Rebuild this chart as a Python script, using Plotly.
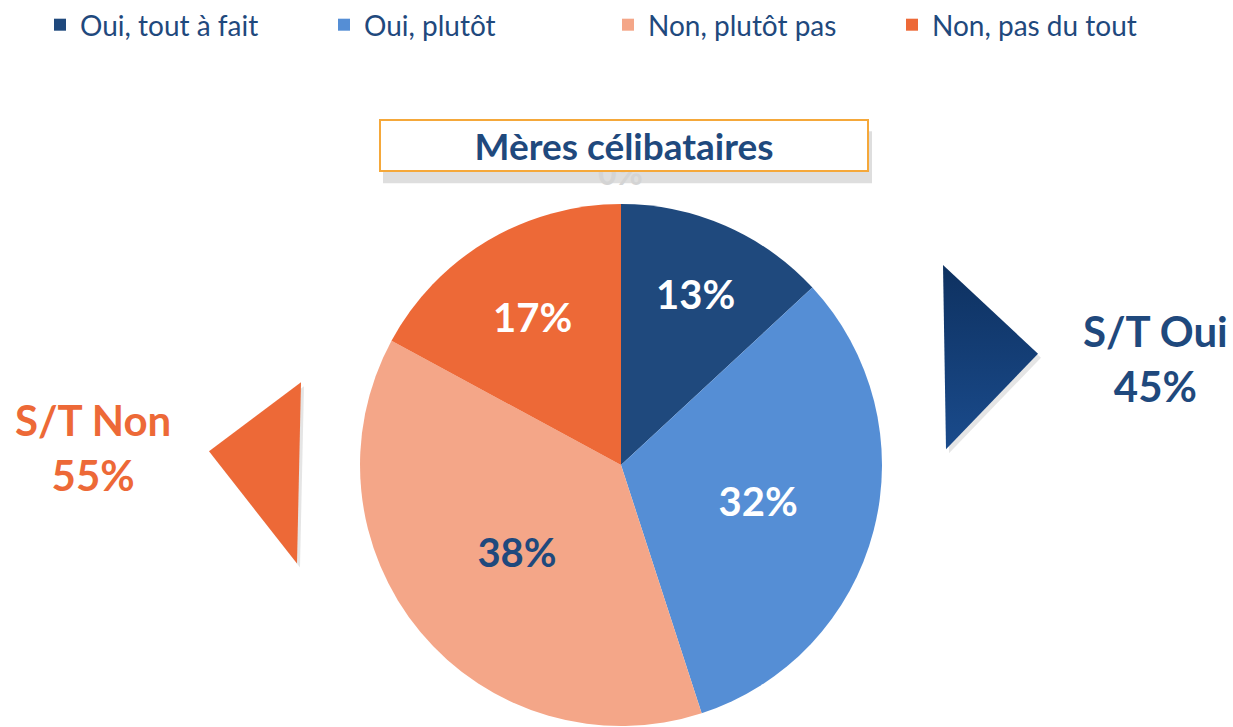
import plotly.graph_objects as go

categories = ["Oui, tout à fait", "Oui, plutôt", "Non, plutôt pas", "Non, pas du tout"]
values = [13.1, 31.9, 37.9, 17.1]
colors = ["#1F497D", "#558ED5", "#F4A688", "#ED6937"]
label_colors = ["white", "white", "#1F497D", "white"]
title = "Mères célibataires"
summary_oui = ("S/T Oui", "45%")
summary_non = ("S/T Non", "55%")

W, H = 1233, 727
FONT = "Lato"
DARK = "#1F497D"
ORANGE = "#ED6937"

def px(x):
    return x / W

def py(y):
    return 1 - y / H

cx, cy, r = 621, 461, 265

fig = go.Figure(go.Pie(
    labels=categories,
    values=values,
    sort=False,
    direction="clockwise",
    rotation=0,
    marker=dict(colors=colors, line=dict(width=0)),
    texttemplate="%{percent:.0%}",
    textposition="inside",
    insidetextorientation="horizontal",
    insidetextfont=dict(family=FONT, size=40, color=label_colors, weight="bold"),
    domain=dict(x=[px(cx - r), px(cx + r)], y=[py(cy + r), py(cy - r)]),
    hoverinfo="label+percent",
))

right_tri = [(943, 258), (1038, 348), (946, 445)]
left_tri = [(301, 377), (209, 447), (297, 561)]

def tri_trace(pts, dx=0, dy=0, **kw):
    xs = [p[0] + dx for p in pts] + [pts[0][0] + dx]
    ys = [p[1] + dy for p in pts] + [pts[0][1] + dy]
    return go.Scatter(x=xs, y=ys, mode="lines", fill="toself", line=dict(width=0),
                      showlegend=False, hoverinfo="skip", **kw)

fig.add_trace(tri_trace(right_tri, 3, 4, fillcolor="rgba(0,0,0,0.10)"))
fig.add_trace(tri_trace(right_tri, fillgradient=dict(
    type="vertical", colorscale=[[0, "#1A4B8C"], [1, "#0E3160"]])))
fig.add_trace(tri_trace(left_tri, 3, 4, fillcolor="rgba(0,0,0,0.10)"))
fig.add_trace(tri_trace(left_tri, fillcolor=ORANGE))

shapes = [
    # title box shadow
    dict(type="rect", xref="paper", yref="paper",
         x0=px(383), x1=px(872), y0=py(175), y1=py(122),
         fillcolor="rgba(0,0,0,0.13)", line=dict(width=0), layer="above"),
]

annotations = [
    dict(text="0%", x=px(620), y=py(164), xref="paper", yref="paper",
         xanchor="center", yanchor="middle",
         showarrow=False, font=dict(family=FONT, size=32, color="#D4D4D4", weight="bold")),
    dict(text=title, x=px(623.5), y=py(137), xref="paper", yref="paper",
         xanchor="center", yanchor="middle",
         showarrow=False, width=486, height=49, bgcolor="white",
         bordercolor="#F5A83A", borderwidth=2, borderpad=0,
         font=dict(family=FONT, size=37, color=DARK, weight="bold")),
    dict(text=summary_oui[0] + "<br>" + summary_oui[1], x=px(1155), y=py(353),
         xref="paper", yref="paper", xanchor="center", yanchor="middle", showarrow=False,
         font=dict(family=FONT, size=42, color=DARK, weight="bold")),
    dict(text=summary_non[0] + "<br>" + summary_non[1], x=px(93), y=py(443),
         xref="paper", yref="paper", xanchor="center", yanchor="middle", showarrow=False,
         font=dict(family=FONT, size=42, color=ORANGE, weight="bold")),
]

fig.update_layout(
    width=W, height=H,
    margin=dict(l=0, r=0, t=0, b=0),
    paper_bgcolor="white",
    plot_bgcolor="rgba(0,0,0,0)",
    xaxis=dict(range=[0, W], visible=False, domain=[0, 1], fixedrange=True),
    yaxis=dict(range=[H, 0], visible=False, domain=[0, 1], fixedrange=True),
    showlegend=True,
    legend=dict(orientation="h", x=px(40), y=1.016, xanchor="left", yanchor="top",
                font=dict(family=FONT, size=28, color=DARK),
                traceorder="normal", entrywidth=239, entrywidthmode="pixels"),
    shapes=shapes,
    annotations=annotations,
)

fig.write_html("out.html", config={"displayModeBar": False},
               post_script="document.body.style.margin='0px';")
